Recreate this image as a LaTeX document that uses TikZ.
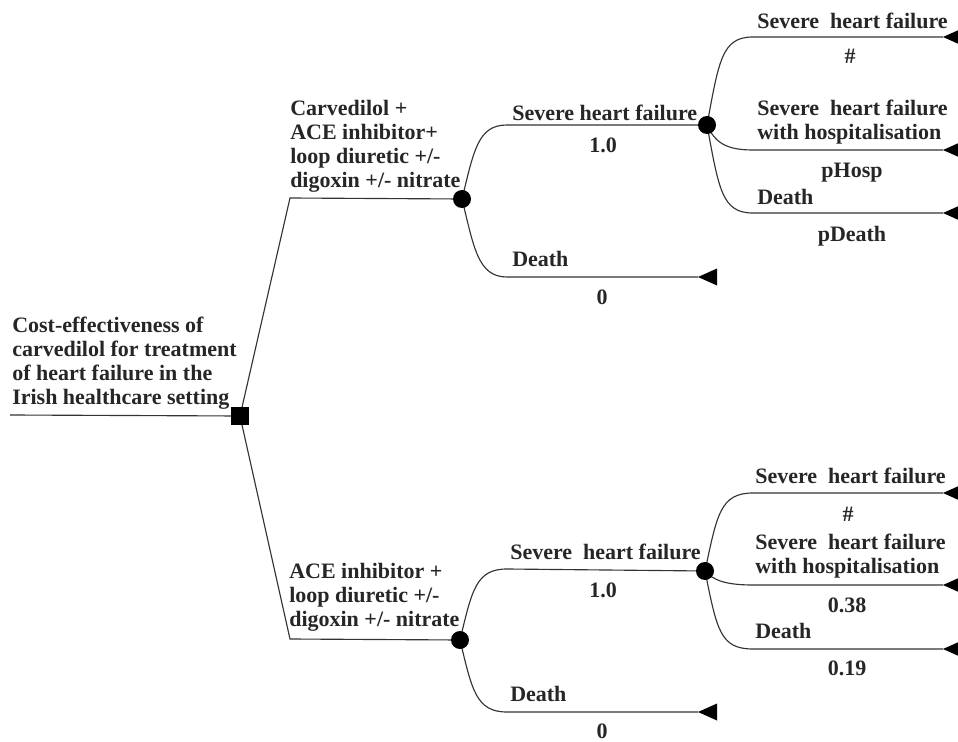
\documentclass[tikz,border=0pt]{standalone}
\usepackage{fontspec}
\setmainfont{Liberation Serif}
\pgfdeclarelayer{bg}
\pgfsetlayers{bg,main}
\tikzset{
  txt/.style={font=\fontsize{16.5}{18}\selectfont\bfseries, text=black!85, inner sep=0pt},
  lbl/.style={txt, anchor=south west, text depth=0pt, align=left},
  val/.style={txt, anchor=base},
  chance/.style={circle, fill=black, minimum size=13.5pt, inner sep=0pt},
  decision/.style={rectangle, fill=black, minimum size=14pt, inner sep=0pt},
  branch/.style={draw=black!80, line width=0.85pt},
  termtip/.style={fill=black}
}
\begin{document}
\begin{tikzpicture}[x=0.75pt,y=-0.75pt]
\useasboundingbox (0,0) rectangle (958,742);
\clip (0,0) rectangle (958,742);
% nodes
\coordinate (root) at (10,415);
\node[decision] (d) at (240,416) {};
\coordinate (k1) at (290,198);
\coordinate (k2) at (290,639);
\node[chance] (c1) at (462,199) {};
\node[chance] (c2) at (707,125) {};
\node[chance] (c3) at (460,640) {};
\node[chance] (c4) at (705,571) {};
\coordinate (t1) at (698,277);
\coordinate (t2) at (943,37);
\coordinate (t3) at (943,150);
\coordinate (t4) at (943,213);
\coordinate (t5) at (698,712);
\coordinate (t6) at (943,493);
\coordinate (t7) at (943,585);
\coordinate (t8) at (943,649);
% terminals
\foreach \t in {t1,t2,t3,t4,t5,t6,t7,t8}
  \fill[termtip] (\t) -- ++(19,-8.5) -- ++(0,17) -- cycle;
% connectors
\begin{pgfonlayer}{bg}
\draw[branch] (root) -- (d.center);
\draw[branch] (d.center) -- (k1) -- (c1.center);
\draw[branch] (d.center) -- (k2) -- (c3.center);
\draw[branch] (c1.center) .. controls (474,150) and (478,125) .. (507,125) -- (c2.center);
\draw[branch] (c1.center) .. controls (474,248) and (478,277) .. (507,277) -- (t1);
\draw[branch] (c2.center) .. controls (719,60) and (722,37) .. (753,37) -- (t2);
\draw[branch] (c2.center) .. controls (715,142) and (725,150) .. (753,150) -- (t3);
\draw[branch] (c2.center) .. controls (719,190) and (722,213) .. (753,213) -- (t4);
\draw[branch] (c3.center) .. controls (472,590) and (476,569) .. (507,569) -- (c4.center);
\draw[branch] (c3.center) .. controls (472,690) and (476,712) .. (507,712) -- (t5);
\draw[branch] (c4.center) .. controls (717,515) and (720,493) .. (753,493) -- (t6);
\draw[branch] (c4.center) .. controls (713,580) and (725,585) .. (753,585) -- (t7);
\draw[branch] (c4.center) .. controls (717,630) and (720,649) .. (753,649) -- (t8);
\end{pgfonlayer}
% labels
\node[lbl] (L0) at (12,405) {Cost-effectiveness of\\carvedilol for treatment\\of heart failure in the\\Irish healthcare setting};
\node[lbl] (L1) at (290,188) {Carvedilol +\\ACE inhibitor+\\loop diuretic +/-\\digoxin +/- nitrate};
\node[lbl] (L2) at (289,627) {ACE inhibitor +\\loop diuretic +/-\\digoxin +/- nitrate};
\node[lbl] (a1) at (512,121) {Severe heart failure};
\node[val] (a2) at (603,152) {1.0};
\node[lbl] (a3) at (512,267) {Death};
\node[val] (a4) at (602,304) {0};
\node[lbl] (b1) at (757,29) {Severe~ heart failure};
\node[val] (b2) at (850,64) {\#};
\node[lbl] (b3) at (757,140) {Severe~ heart failure\\with hospitalisation};
\node[val] (b4) at (852,178) {pHosp};
\node[lbl] (b5) at (757,205) {Death};
\node[val] (b6) at (852,241) {pDeath};
\node[lbl] (e1) at (510,560) {Severe~ heart failure};
\node[val] (e2) at (603,597) {1.0};
\node[lbl] (e3) at (510,702) {Death};
\node[val] (e4) at (602,738) {0};
\node[lbl] (f1) at (755,484) {Severe~ heart failure};
\node[val] (f2) at (848,521) {\#};
\node[lbl] (f3) at (755,574) {Severe~ heart failure\\with hospitalisation};
\node[val] (f4) at (847,612) {0.38};
\node[lbl] (f5) at (755,639) {Death};
\node[val] (f6) at (847,675) {0.19};
\end{tikzpicture}
\end{document}
